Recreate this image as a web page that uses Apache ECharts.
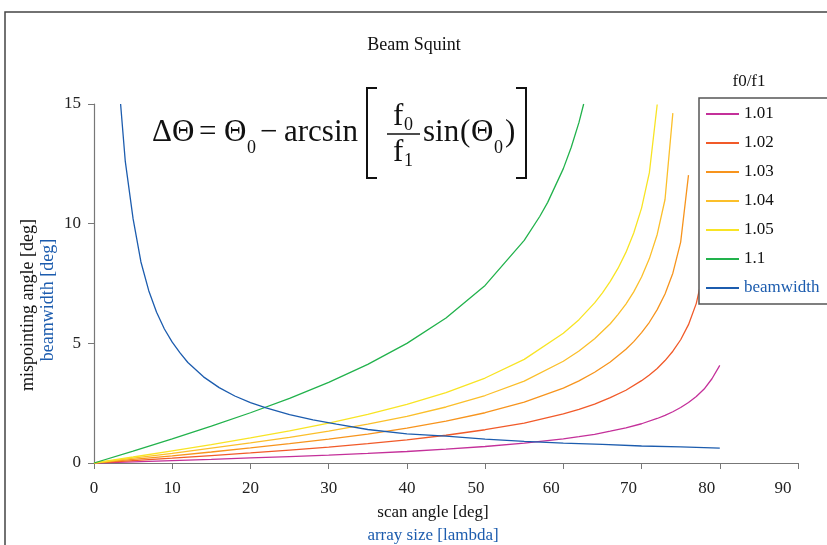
<!DOCTYPE html>
<html style="height: 100%">

<head>
    <meta charset="UTF-8" />
    <script type="text/javascript" src="https://cdn.jsdelivr.net/npm/echarts@6.0.0/dist/echarts.min.js"></script>
</head>

<body style="height: 100%; margin: 0; background: #fff">
    <div id="container" style="width: 827px; height: 545px"></div>
    <script>
        // scan angle [deg] -> mispointing angle [deg], one array per f0/f1
        var r101 = [[0, 0], [5, 0.05], [10, 0.10], [15, 0.15], [20, 0.21], [25, 0.27], [30, 0.33], [35, 0.40], [40, 0.48], [45, 0.58], [50, 0.69], [55, 0.83], [60, 1.01], [62, 1.10], [64, 1.20], [66, 1.33], [68, 1.47], [70, 1.64], [72, 1.86], [73, 1.99], [74, 2.14], [75, 2.32], [76, 2.53], [77, 2.78], [78, 3.09], [79, 3.52], [80, 4.08]];
        var r102 = [[0, 0], [5, 0.10], [10, 0.20], [15, 0.31], [20, 0.42], [25, 0.54], [30, 0.66], [35, 0.81], [40, 0.97], [45, 1.16], [50, 1.39], [55, 1.67], [60, 2.05], [62, 2.24], [64, 2.46], [66, 2.73], [68, 3.04], [70, 3.44], [71, 3.68], [72, 3.95], [73, 4.28], [74, 4.67], [75, 5.15], [76, 5.78], [77, 6.67], [78, 8.12]];
        var r103 = [[0, 0], [5, 0.15], [10, 0.30], [15, 0.46], [20, 0.63], [25, 0.81], [30, 1.00], [35, 1.21], [40, 1.46], [45, 1.75], [50, 2.10], [55, 2.54], [60, 3.13], [62, 3.43], [64, 3.79], [66, 4.22], [68, 4.75], [69, 5.07], [70, 5.45], [71, 5.88], [72, 6.41], [73, 7.06], [74, 7.93], [75, 9.23], [76, 12.03]];
        var r104 = [[0, 0], [5, 0.20], [10, 0.40], [15, 0.62], [20, 0.84], [25, 1.07], [30, 1.33], [35, 1.62], [40, 1.95], [45, 2.34], [50, 2.82], [55, 3.42], [60, 4.25], [62, 4.68], [64, 5.19], [66, 5.82], [67, 6.21], [68, 6.64], [69, 7.15], [70, 7.77], [71, 8.54], [72, 9.55], [73, 11.01], [74, 14.62]];
        var r105 = [[0, 0], [5, 0.25], [10, 0.51], [15, 0.77], [20, 1.05], [25, 1.34], [30, 1.67], [35, 2.03], [40, 2.45], [45, 2.94], [50, 3.55], [55, 4.33], [60, 5.42], [62, 5.99], [64, 6.69], [65, 7.11], [66, 7.59], [67, 8.14], [68, 8.80], [69, 9.61], [70, 10.65], [71, 12.13], [72, 14.98]];
        var r110 = [[0, 0], [5, 0.50], [10, 1.01], [15, 1.54], [20, 2.10], [25, 2.70], [30, 3.37], [35, 4.12], [40, 5.00], [45, 6.06], [50, 7.42], [55, 9.30], [57, 10.31], [58, 10.89], [60, 12.30], [61, 13.18], [62, 14.23], [62.6, 15.0]];
        // array size [lambda] -> beamwidth [deg]
        var beamwidth = [[3.4, 15.0], [4, 12.6], [5, 10.2], [6, 8.4], [7, 7.2], [8, 6.3], [9, 5.6], [10, 5.05], [11, 4.6], [12, 4.2], [14, 3.6], [16, 3.15], [18, 2.8], [20, 2.52], [22, 2.3], [25, 2.02], [28, 1.8], [31, 1.62], [35, 1.4], [40, 1.22], [45, 1.12], [50, 1.0], [55, 0.9], [60, 0.83], [65, 0.78], [70, 0.71], [75, 0.67], [80, 0.62]];

        var names = ['1.01', '1.02', '1.03', '1.04', '1.05', '1.1', 'beamwidth'];
        var colors = ['#c4309a', '#f15a29', '#f7941d', '#fbbf2a', '#f8e424', '#22b24c', '#1c5cae'];
        var xTicks = [0, 90, 10];
        var yTicks = [0, 15, 5];
        // the original's x labels sit a bit left of their ticks past 40
        var xLabelShift = { 50: 9, 60: 12, 70: 13, 80: 13, 90: 15 };

        var serif = '"Liberation Serif", "Times New Roman", serif';
        var dom = document.getElementById("container");
        var chart = echarts.init(dom);

        function txt(s, x, y, size, opts) {
            opts = opts || {};
            return {
                type: 'text', x: x, y: y, rotation: opts.rot || 0, z: 10,
                style: {
                    text: s, font: size + 'px ' + serif, fill: opts.color || '#111',
                    align: opts.align || 'left', verticalAlign: 'middle'
                }
            };
        }
        function seg(points) {
            return { type: 'polyline', z: 10, shape: { points: points }, style: { stroke: '#111', lineWidth: 2, fill: null } };
        }

        var xRich = { n: { fontFamily: serif, fontSize: 17, color: '#222' } };
        Object.keys(xLabelShift).forEach(function (k) {
            xRich['s' + k] = { fontFamily: serif, fontSize: 17, color: '#222', padding: [0, 2 * xLabelShift[k], 0, 0] };
        });

        var allData = [r101, r102, r103, r104, r105, r110, beamwidth];
        var series = allData.map(function (d, i) {
            return {
                name: names[i], type: 'line', data: d, showSymbol: false, symbol: 'none',
                clip: true, lineStyle: { width: 1.3, color: colors[i] }, itemStyle: { color: colors[i] },
                z: i == 6 ? 3 : 2
            };
        });

        var option = {
            backgroundColor: '#fff',
            animation: false,
            grid: { left: 94, right: 29, top: 104, bottom: 82 },
            xAxis: {
                type: 'value', min: xTicks[0], max: xTicks[1], interval: xTicks[2],
                splitLine: { show: false },
                axisLine: { lineStyle: { color: '#777', width: 1.2 } },
                axisTick: { show: true, length: 6, lineStyle: { color: '#777' } },
                axisLabel: {
                    margin: 17, fontFamily: serif, fontSize: 17, color: '#222',
                    formatter: function (v) {
                        return xLabelShift[v] ? '{s' + v + '|' + v + '}' : '{n|' + v + '}';
                    },
                    rich: xRich
                }
            },
            yAxis: {
                type: 'value', min: yTicks[0], max: yTicks[1], interval: yTicks[2],
                splitLine: { show: false },
                axisLine: { show: true, lineStyle: { color: '#777', width: 1.2 } },
                axisTick: { show: true, length: 6, lineStyle: { color: '#777' } },
                axisLabel: { margin: 13, fontFamily: serif, fontSize: 17, color: '#222' }
            },
            legend: {
                orient: 'vertical', left: 699, top: 98,
                itemWidth: 33, itemHeight: 2, icon: 'rect', itemGap: 9,
                padding: [6, 60, 6, 7],
                backgroundColor: '#fff', borderColor: '#555', borderWidth: 1.5,
                textStyle: { fontFamily: serif, fontSize: 17, color: '#111', lineHeight: 20 },
                data: names.map(function (n) {
                    return n == 'beamwidth' ? { name: n, textStyle: { color: '#1c5cae' } } : { name: n };
                })
            },
            graphic: {
                elements: [
                    { type: 'rect', shape: { x: 5, y: 12, width: 1000, height: 1000 }, style: { fill: null, stroke: '#444', lineWidth: 1.5 } },
                    txt('Beam Squint', 414, 45, 18, { align: 'center' }),
                    txt('f0/f1', 749, 82, 17, { align: 'center' }),
                    txt('scan angle [deg]', 433, 513, 17, { align: 'center' }),
                    txt('array size [lambda]', 433, 536, 17, { align: 'center', color: '#1c5cae' }),
                    txt('mispointing angle [deg]', 28, 305, 18, { align: 'center', rot: Math.PI / 2 }),
                    txt('beamwidth [deg]', 48, 300, 18, { align: 'center', rot: Math.PI / 2, color: '#1c5cae' }),
                    // formula
                    txt('\u0394\u0398', 152, 133, 31),
                    txt('=', 199, 133, 31),
                    txt('\u0398', 224, 133, 31),
                    txt('0', 247, 148, 18),
                    txt('\u2212', 260, 133, 31),
                    txt('arcsin', 284, 133, 31),
                    seg([[377, 88], [367, 88], [367, 178], [377, 178]]),
                    txt('f', 393, 117, 31),
                    txt('0', 404, 125, 18),
                    { type: 'line', z: 10, shape: { x1: 387, y1: 134, x2: 420, y2: 134 }, style: { stroke: '#111', lineWidth: 1.5 } },
                    txt('f', 393, 153, 31),
                    txt('1', 404, 161, 18),
                    txt('sin', 423, 133, 31),
                    txt('(', 460, 133, 31),
                    txt('\u0398', 471, 133, 31),
                    txt('0', 494, 148, 18),
                    txt(')', 505, 133, 31),
                    seg([[516, 88], [526, 88], [526, 178], [516, 178]])
                ]
            },
            series: series
        };
        chart.setOption(option);
    </script>
</body>

</html>
